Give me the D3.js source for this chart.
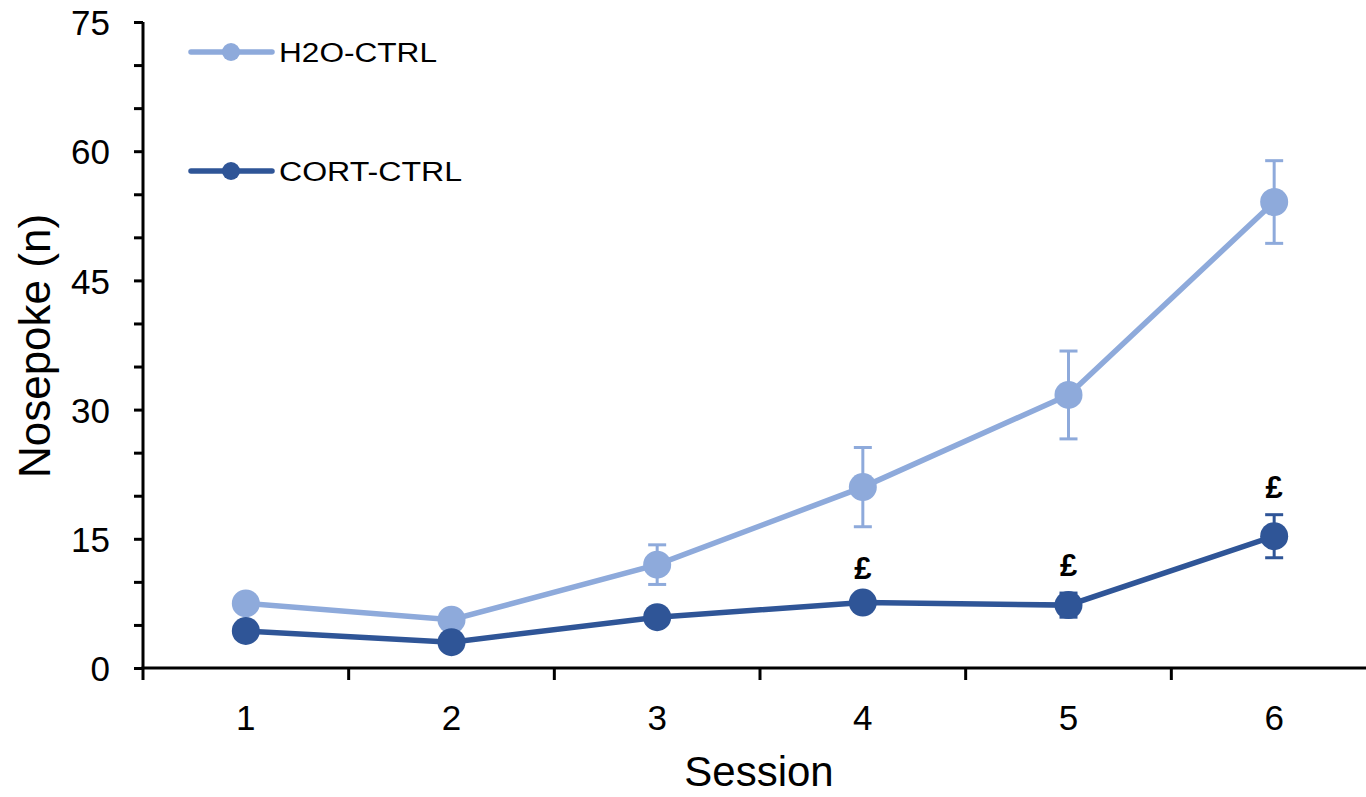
<!DOCTYPE html>
<html>
<head>
<meta charset="utf-8">
<script src="https://cdn.jsdelivr.net/npm/d3@7"></script>
<style>
  html, body { margin: 0; padding: 0; background: #fff; }
  svg { display: block; font-family: "Liberation Sans", Arial, sans-serif; }
</style>
</head>
<body>
<svg id="chart" width="1366" height="797"></svg>
<script>
// Sessions and group means / SEM
const sessions = ["1", "2", "3", "4", "5", "6"];
const h2oMean = [7.5, 5.6, 12.0, 21.0, 31.7, 54.1];
const h2oSem  = [0.6, 0.5, 2.3, 4.6, 5.1, 4.8];
const cortMean = [4.3, 3.0, 5.9, 7.6, 7.3, 15.3];
const cortSem  = [0.5, 0.4, 0.6, 0.8, 1.4, 2.5];
// Significance marks (£) per session
const cortMarks = ["", "", "", "£", "£", "£"];
const yTicksMajor = [0, 15, 30, 45, 60, 75];

const series = [
  { name: "H2O-CTRL", color: "#8eaadb", mean: h2oMean, sem: h2oSem, labelWidth: 158 },
  { name: "CORT-CTRL", color: "#2f5597", mean: cortMean, sem: cortSem, marks: cortMarks, labelWidth: 183 }
];

const svg = d3.select("#chart");
const plotLeft = 143, plotRight = 1377, plotTop = 22, plotBottom = 668;

const x = d3.scaleBand().domain(sessions).range([plotLeft, plotRight]);
const y = d3.scaleLinear().domain([0, 75]).range([plotBottom, plotTop]);
const cx = s => x(s) + x.bandwidth() / 2;

// Y axis: minor ticks every 5, labels every 15
const yAxis = d3.axisLeft(y)
  .tickValues(d3.range(0, 76, 5))
  .tickSize(9)
  .tickFormat(d => yTicksMajor.includes(d) ? d : "");
const gy = svg.append("g").attr("transform", `translate(${plotLeft},0)`).call(yAxis);
gy.select(".domain").attr("stroke", "#000").attr("stroke-width", 3)
  .attr("d", `M0,${plotTop}V${plotBottom}`);
gy.selectAll(".tick line").attr("stroke", "#000").attr("stroke-width", 3);
gy.selectAll(".tick text").attr("font-size", 35).attr("fill", "#000")
  .attr("x", -33).attr("dy", "0.36em").attr("font-family", "Liberation Sans, Arial, sans-serif");

// X axis: ticks at band boundaries, labels at band centres
const gx = svg.append("g").attr("transform", `translate(0,${plotBottom})`);
gx.append("line").attr("x1", plotLeft - 1.5).attr("x2", plotRight).attr("y1", 0).attr("y2", 0)
  .attr("stroke", "#000").attr("stroke-width", 3);
const bounds = sessions.map(s => x(s));
gx.selectAll("line.tk").data(bounds).join("line").attr("class", "tk")
  .attr("x1", d => d).attr("x2", d => d).attr("y1", 0).attr("y2", 12)
  .attr("stroke", "#000").attr("stroke-width", 3);
gx.selectAll("text").data(sessions).join("text")
  .attr("x", d => cx(d)).attr("y", 62).attr("text-anchor", "middle")
  .attr("font-size", 35).attr("fill", "#000").text(d => d);

// Axis titles
svg.append("text").attr("x", 759).attr("y", 786).attr("text-anchor", "middle")
  .attr("font-size", 42).attr("fill", "#000").text("Session");
svg.append("text").attr("transform", "translate(50,346) rotate(-90)")
  .attr("text-anchor", "middle").attr("font-size", 44).attr("fill", "#000").text("Nosepoke (n)");

// Series
const line = d3.line().x((d, i) => cx(sessions[i])).y(d => y(d));
series.forEach(s => {
  const g = svg.append("g");
  // error bars
  sessions.forEach((sess, i) => {
    const px = cx(sess);
    const y1 = y(s.mean[i] + s.sem[i]), y2 = y(s.mean[i] - s.sem[i]);
    g.append("line").attr("x1", px).attr("x2", px).attr("y1", y1).attr("y2", y2)
      .attr("stroke", s.color).attr("stroke-width", 3);
    [y1, y2].forEach(yy => g.append("line").attr("x1", px - 9).attr("x2", px + 9)
      .attr("y1", yy).attr("y2", yy).attr("stroke", s.color).attr("stroke-width", 3));
  });
  g.append("path").datum(s.mean).attr("d", line).attr("fill", "none")
    .attr("stroke", s.color).attr("stroke-width", 5.5);
  g.selectAll("circle").data(s.mean).join("circle")
    .attr("cx", (d, i) => cx(sessions[i])).attr("cy", d => y(d)).attr("r", 14)
    .attr("fill", s.color);
  if (s.marks) {
    g.selectAll("text.mark").data(s.marks).join("text").attr("class", "mark")
      .attr("x", (d, i) => cx(sessions[i]))
      .attr("y", (d, i) => y(s.mean[i] + s.sem[i]) - 17)
      .attr("text-anchor", "middle").attr("font-size", 31).attr("font-weight", "bold")
      .attr("fill", "#000").text(d => d);
  }
});

// Legend
const lg = svg.append("g");
series.forEach((s, i) => {
  const ly = 52 + i * 119;
  lg.append("line").attr("x1", 191).attr("x2", 272).attr("y1", ly).attr("y2", ly)
    .attr("stroke", s.color).attr("stroke-width", 5.5).attr("stroke-linecap", "round");
  lg.append("circle").attr("cx", 231).attr("cy", ly).attr("r", 9).attr("fill", s.color);
  lg.append("text").attr("x", 279).attr("y", ly + 10).attr("font-size", 27)
    .attr("textLength", s.labelWidth).attr("lengthAdjust", "spacingAndGlyphs")
    .attr("fill", "#000").text(s.name);
});
</script>
</body>
</html>
